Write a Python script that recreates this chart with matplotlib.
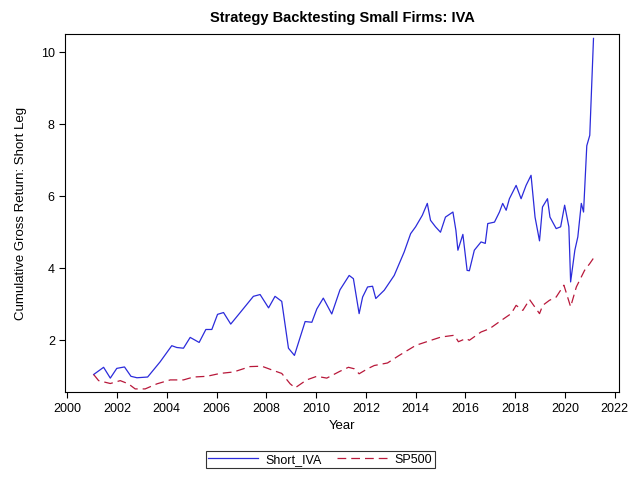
import matplotlib
matplotlib.use("Agg")
import matplotlib.pyplot as plt

plt.rcParams['font.family'] = ['Liberation Sans', 'DejaVu Sans']

# Short_IVA cumulative gross return
short_years = [2001.06, 2001.46, 2001.73, 2001.99, 2002.30, 2002.56, 2002.80, 2003.23, 2003.73,
               2004.20, 2004.40, 2004.67, 2004.94, 2005.30, 2005.57, 2005.81, 2006.04, 2006.28,
               2006.57, 2006.95, 2007.48, 2007.75, 2008.09, 2008.35, 2008.62, 2008.89, 2009.13,
               2009.56, 2009.83, 2010.03, 2010.29, 2010.63, 2010.96, 2011.33, 2011.50, 2011.73,
               2011.87, 2012.07, 2012.27, 2012.40, 2012.74, 2013.14, 2013.54, 2013.80, 2014.00,
               2014.27, 2014.47, 2014.60, 2014.80, 2015.00, 2015.20, 2015.50, 2015.62, 2015.70,
               2015.90, 2016.07, 2016.16, 2016.36, 2016.63, 2016.80, 2016.90, 2017.17, 2017.37,
               2017.50, 2017.64, 2017.77, 2018.04, 2018.24, 2018.44, 2018.64, 2018.80, 2018.98,
               2019.10, 2019.30, 2019.40, 2019.65, 2019.83, 2019.99, 2020.16, 2020.23, 2020.40,
               2020.52, 2020.66, 2020.75, 2020.88, 2021.00, 2021.15]
short_iva = [1.05, 1.25, 0.95, 1.22, 1.26, 1.00, 0.96, 0.98, 1.40,
             1.85, 1.80, 1.78, 2.08, 1.94, 2.30, 2.30, 2.72, 2.77,
             2.45, 2.77, 3.22, 3.27, 2.90, 3.22, 3.08, 1.78, 1.58,
             2.52, 2.50, 2.87, 3.17, 2.73, 3.40, 3.80, 3.71, 2.74,
             3.20, 3.48, 3.50, 3.16, 3.39, 3.80, 4.45, 4.96, 5.15,
             5.47, 5.80, 5.33, 5.15, 5.00, 5.42, 5.56, 5.05, 4.50,
             4.94, 3.94, 3.93, 4.50, 4.73, 4.69, 5.24, 5.28, 5.56,
             5.80, 5.61, 5.93, 6.30, 5.93, 6.30, 6.58, 5.42, 4.76,
             5.70, 5.93, 5.42, 5.10, 5.15, 5.75, 5.15, 3.62, 4.50,
             4.87, 5.80, 5.56, 7.40, 7.69, 10.38]

# SP500 cumulative return
sp_years = [2001.06, 2001.26, 2001.73, 2002.13, 2002.46, 2002.73, 2003.13, 2003.60, 2004.14,
            2004.67, 2005.07, 2005.61, 2006.14, 2006.68, 2007.35, 2007.82, 2008.29, 2008.62,
            2008.96, 2009.16, 2009.62, 2010.03, 2010.43, 2010.96, 2011.30, 2011.53, 2011.73,
            2012.07, 2012.34, 2012.87, 2013.34, 2014.01, 2014.62, 2015.02, 2015.56, 2015.72,
            2016.03, 2016.16, 2016.63, 2016.97, 2017.44, 2017.84, 2018.04, 2018.31, 2018.58,
            2018.98, 2019.11, 2019.38, 2019.65, 2019.96, 2020.23, 2020.46, 2020.79, 2021.00,
            2021.15]
sp500 = [1.05, 0.88, 0.80, 0.88, 0.79, 0.65, 0.65, 0.79, 0.90,
         0.90, 0.98, 1.00, 1.08, 1.12, 1.27, 1.28, 1.16, 1.08,
         0.79, 0.68, 0.90, 1.00, 0.95, 1.14, 1.25, 1.21, 1.07,
         1.21, 1.30, 1.37, 1.58, 1.86, 2.00, 2.09, 2.14, 1.96,
         2.05, 2.00, 2.23, 2.32, 2.55, 2.74, 2.97, 2.83, 3.13,
         2.74, 2.97, 3.11, 3.20, 3.53, 2.93, 3.48, 3.94, 4.13,
         4.28]

fig = plt.figure(figsize=(6.4, 4.8), dpi=100)
ax = fig.add_axes([0.102, 0.183, 0.865, 0.746])
ax.plot(short_years, short_iva, color='#2b2bdb', lw=0.9, label='Short_IVA')
ax.plot(sp_years, sp500, color='#b8183a', lw=0.9, dashes=(7, 4), label='SP500')

ax.set_xlim(1999.92, 2022.17)
ax.set_ylim(0.56, 10.5)
ax.set_xticks(range(2000, 2023, 2))
ax.set_yticks([2, 4, 6, 8, 10])
ax.tick_params(labelsize=9, length=4)
ax.set_xlabel('Year', fontsize=9.5)
ax.set_ylabel('Cumulative Gross Return: Short Leg', fontsize=9.5, labelpad=10)
ax.set_title('Strategy Backtesting Small Firms: IVA', fontsize=10.5, fontweight='bold', pad=9)

leg = fig.legend(loc='center', bbox_to_anchor=(0.5, 0.042), ncol=2, fontsize=9,
                 fancybox=False, edgecolor='black', handlelength=4, columnspacing=1.2,
                 handletextpad=0.6, borderpad=0.2)
leg.get_frame().set_linewidth(0.8)

fig.savefig('out.png', dpi=100)
